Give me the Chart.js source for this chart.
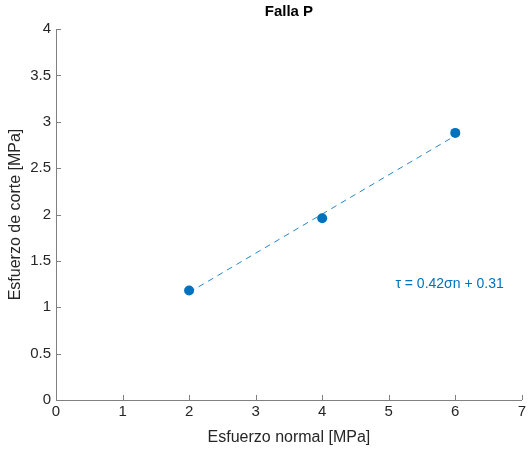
<!DOCTYPE html>
<html>
<head>
<meta charset="utf-8">
<script src="https://cdn.jsdelivr.net/npm/chart.js@4/dist/chart.umd.min.js"></script>
<style>
  html, body { margin: 0; padding: 0; background: #fff; }
  canvas { display: block; }
</style>
</head>
<body>
<canvas id="chart" width="529" height="451"></canvas>
<script>
// measured points (sigma n, tau)
const sigmaN = [2, 4, 6];
const tau = [1.18, 1.96, 2.88];

// fitted line ends
const fitX = [2, 6];
const fitY = [1.16, 2.85];

const fitLabel = 'τ = 0.42σn + 0.31';
const fitLabelAt = [5.1, 1.25];

const xTicks = [0, 1, 2, 3, 4, 5, 6, 7];
const yTicks = [0, 0.5, 1, 1.5, 2, 2.5, 3, 3.5, 4];

const blue = '#0072BD';
const axisGray = '#808080';
const textGray = '#262626';
const fontFam = "'Liberation Sans', Arial, sans-serif";

// MATLAB-like inward tick marks + equation text
const matlabBits = {
  id: 'matlabBits',
  afterDraw(chart) {
    const ctx = chart.ctx;
    const a = chart.chartArea;
    const xs = chart.scales.x, ys = chart.scales.y;
    ctx.save();
    ctx.strokeStyle = axisGray;
    ctx.lineWidth = 1;
    ctx.beginPath();
    xTicks.forEach(v => {
      const px = Math.round(xs.getPixelForValue(v)) + 0.5;
      ctx.moveTo(px, a.bottom);
      ctx.lineTo(px, a.bottom - 5);
    });
    yTicks.forEach(v => {
      const py = Math.round(ys.getPixelForValue(v)) + 0.5;
      ctx.moveTo(a.left, py);
      ctx.lineTo(a.left + 5, py);
    });
    ctx.stroke();

    ctx.fillStyle = blue;
    ctx.font = '14px ' + fontFam;
    ctx.textAlign = 'left';
    ctx.textBaseline = 'middle';
    ctx.fillText(fitLabel, xs.getPixelForValue(fitLabelAt[0]), ys.getPixelForValue(fitLabelAt[1]));
    ctx.restore();
  }
};

let fallaChart = new Chart(document.getElementById('chart'), {
  type: 'scatter',
  data: {
    datasets: [{
      label: 'ajuste',
      data: fitX.map((x, i) => ({x: x, y: fitY[i]})),
      showLine: true,
      borderColor: 'rgba(0, 114, 189, 0.85)',
      borderWidth: 1,
      borderDash: [6, 5],
      pointRadius: 0,
      fill: false
    }, {
      label: 'datos',
      data: sigmaN.map((x, i) => ({x: x, y: tau[i]})),
      backgroundColor: blue,
      borderColor: blue,
      pointRadius: 5,
      pointBorderWidth: 0
    }]
  },
  options: {
    responsive: false,
    animation: false,
    layout: { padding: { left: 0, right: 0, top: 0, bottom: 0 } },
    plugins: {
      legend: { display: false },
      tooltip: { enabled: false },
      title: {
        display: true,
        text: 'Falla P',
        fullSize: false,
        color: '#000',
        font: { family: fontFam, size: 15, weight: 'bold' },
        padding: { top: 3, bottom: 8 }
      }
    },
    scales: {
      x: {
        type: 'linear',
        min: 0, max: 7,
        afterFit: s => { s.height = 51; },
        afterBuildTicks: s => { s.ticks = xTicks.map(v => ({value: v})); },
        grid: { display: false, drawTicks: false },
        border: { display: true, color: axisGray },
        ticks: { color: textGray, font: { family: fontFam, size: 15 }, padding: 3, maxRotation: 0, callback: v => v },
        title: { display: true, text: 'Esfuerzo normal [MPa]', color: textGray, font: { family: fontFam, size: 16 }, padding: { top: 0, bottom: 4 } }
      },
      y: {
        type: 'linear',
        min: 0, max: 4,
        afterFit: s => { s.width = 56; },
        afterBuildTicks: s => { s.ticks = yTicks.map(v => ({value: v})); },
        grid: { display: false, drawTicks: false },
        border: { display: true, color: axisGray },
        ticks: { color: textGray, font: { family: fontFam, size: 15 }, padding: 5, callback: v => v },
        title: { display: true, text: 'Esfuerzo de corte [MPa]', color: textGray, font: { family: fontFam, size: 16 }, padding: { top: 6, bottom: 0 } }
      }
    }
  },
  plugins: [matlabBits]
});
</script>
</body>
</html>
